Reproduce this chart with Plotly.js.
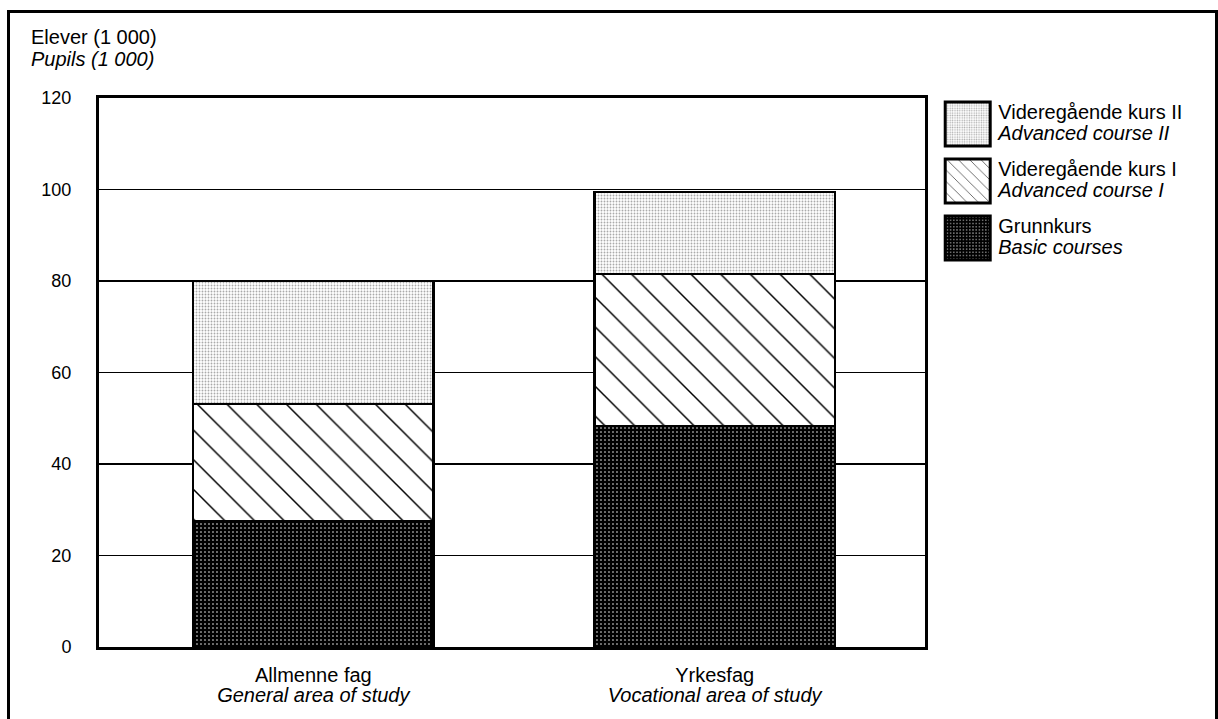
<!DOCTYPE html>
<html><head><meta charset="utf-8">
<script src="https://cdn.plot.ly/plotly-3.0.1.min.js"></script>
<style>
html,body{margin:0;padding:0;background:#fff;}
#chart{position:absolute;left:0;top:0;width:1218px;height:719px;}
#frame{position:absolute;left:7px;top:10px;width:1211px;height:720px;border:3px solid #000;border-bottom:none;box-sizing:border-box;pointer-events:none;}
</style></head><body>
<div id="chart"></div><div id="frame"></div>
<script>
// Data
const categories = ["Allmenne fag<br><i>General area of study</i>", "Yrkesfag<br><i>Vocational area of study</i>"];
const seriesNames = [
  "Grunnkurs<br><i>Basic courses</i>",
  "Videregående kurs I<br><i>Advanced course I</i>",
  "Videregående kurs II<br><i>Advanced course II</i>"
];
const grunnkurs = [27.5, 48.3];
const vkI = [25.6, 33.2];
const vkII = [26.9, 18.0];
const yTicks = [0, 20, 40, 60, 80, 100, 120];

const FONT = "Liberation Sans, Arial, Helvetica, sans-serif";
const line = {color: "#000", width: 2.5};

const traces = [
  {type: "bar", name: seriesNames[0], x: categories, y: grunnkurs, width: 0.6, legendgroup: "g1", legendrank: 3,
   marker: {color: "#111", line: line, pattern: {shape: ".", bgcolor: "#000", fgcolor: "#fff", size: 4, solidity: 0.12}}},
  {type: "bar", name: seriesNames[1], x: categories, y: vkI, width: 0.6, legendgroup: "g2", legendrank: 2,
   marker: {color: "#fff", line: line, pattern: {shape: "\\", bgcolor: "#fff", fgcolor: "#000", size: 21, solidity: 0.07}}},
  {type: "bar", name: seriesNames[2], x: categories, y: vkII, width: 0.6, legendgroup: "g3", legendrank: 1,
   marker: {color: "#eee", line: line, pattern: {shape: ".", bgcolor: "#fff", fgcolor: "#aaa", size: 3, solidity: 0.3}}}
];

const layout = {
  width: 1218, height: 719,
  margin: {l: 99, r: 293, t: 98, b: 72},
  paper_bgcolor: "#fff", plot_bgcolor: "#fff",
  font: {family: FONT, size: 20, color: "#000"},
  barmode: "stack",
  showlegend: true,
  legend: {x: 1.016, xanchor: "left", y: 1.012, yanchor: "top", traceorder: "grouped",
           tracegroupgap: 2, itemwidth: 50, font: {family: FONT, size: 20, color: "#000"},
           bgcolor: "rgba(0,0,0,0)", borderwidth: 0, itemclick: false},
  xaxis: {type: "category", range: [-0.534, 1.524], showline: true, mirror: true, linecolor: "#000",
          linewidth: 3, ticks: "", showgrid: false, zeroline: false, ticklabelstandoff: 8,
          tickfont: {family: FONT, size: 20}},
  yaxis: {range: [0, 120], tickvals: yTicks, showline: true, mirror: true, linecolor: "#000", linewidth: 3,
          ticks: "", showgrid: true, gridcolor: "#000", gridwidth: 1.6, zeroline: false,
          ticklabelstandoff: 21, tickfont: {family: FONT, size: 18}},
  annotations: [
    {text: "Elever (1 000)<br><i>Pupils (1 000)</i>", xref: "paper", yref: "paper", x: -0.085, y: 1.135,
     xanchor: "left", yanchor: "top", align: "left", showarrow: false, font: {family: FONT, size: 20}}
  ]
};

Plotly.newPlot("chart", traces, layout, {staticPlot: true}).then(function () {
  const gd = document.getElementById("chart");
  gd.querySelectorAll(".legend .legendpoints path").forEach(function (p) {
    p.setAttribute("d", "M22,22H-23V-22H22Z");
    p.style.stroke = "#000";
    p.style.strokeWidth = "3px";
  });
  gd.querySelectorAll("tspan.line").forEach(function (t) {
    const dy = t.getAttribute("dy");
    if (!dy || dy.indexOf("em") < 0) return;
    const n = parseFloat(dy) / 1.3;
    const f = t.closest(".xtick") ? 1.0 : 1.08;
    t.setAttribute("dy", (n * f) + "em");
  });
});
</script>
</body></html>
